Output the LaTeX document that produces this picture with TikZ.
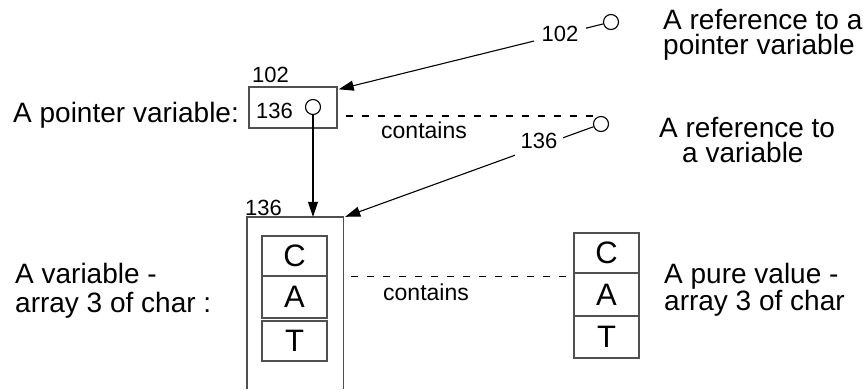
\documentclass[tikz,border=0pt]{standalone}
\usepackage{fontspec}
\setmainfont{Liberation Sans}
\usetikzlibrary{arrows.meta,calc}
\definecolor{boxgray}{HTML}{505050}
\begin{document}
\begin{tikzpicture}[x=1pt,y=-1pt,
  lbl/.style={font=\fontsize{28}{24}\selectfont, inner sep=0pt, anchor=base west},
  num/.style={font=\fontsize{22}{22}\selectfont, inner sep=0pt, anchor=base west},
  numlab/.style={font=\fontsize{22}{22}\selectfont, inner sep=0pt, fill=white},
  cnt/.style={font=\fontsize{23}{23}\selectfont, inner sep=0pt, anchor=base west},
  cell/.style={draw=boxgray, line width=1.4pt, minimum width=65pt, inner sep=0pt, font=\fontsize{31}{31}\selectfont},
  box/.style={draw=boxgray, line width=1.4pt, inner sep=0pt},
  refc/.style={circle, draw, line width=1.1pt, minimum size=15pt, inner sep=0pt},
  conn/.style={line width=1.1pt},
  arr/.style={conn, -{Triangle[length=15pt,width=10pt]}},
  dsh/.style={line width=1.1pt, dash pattern=on 7pt off 9pt},
]
\useasboundingbox (0,0) rectangle (867,389);

% pointer variable box
\node[box, minimum width=88pt, minimum height=41pt] (pbox) at (293,107.5) {};
\node[refc] (refp) at (313,107) {};
\node[num] (addr102) at (252,82) {102};
\node[num] (val136) at (256,118) {136};
\node[lbl] (ptrlbl) at (13,122) {A pointer variable:};

% big variable box (open at the bottom)
\node[minimum width=96pt, minimum height=172pt, inner sep=0pt] (big) at (295,303) {};
\draw[draw=boxgray, line width=1.4pt] (big.south west) -- (big.north west) -- (big.north east) -- (big.south east);
\node[num] (addr136) at (245,215) {136};
\node[cell, minimum height=40pt] (lC) at (294.5,256) {C};
\node[cell, minimum height=42pt] (lA) at (294.5,297) {A};
\node[cell, minimum height=40pt] (lT) at (294.5,341) {T};
\node[lbl] (varA) at (15,283) {A variable -};
\node[lbl] (varB) at (15,312) {array 3 of char :};

% pure value cells
\node[cell, minimum height=40pt] (rC) at (606.5,253) {C};
\node[cell, minimum height=43pt] (rA) at (606.5,294.5) {A};
\node[cell, minimum height=42pt] (rT) at (606.5,337) {T};
\node[lbl] (pureA) at (664,283) {A pure value -};
\node[lbl] (pureB) at (664,310) {array 3 of char};

% references
\node[refc] (ref1) at (611,22) {};
\node[refc] (ref2) at (601,124) {};
\node[lbl] (r1A) at (663,29) {A reference to a};
\node[lbl] (r1B) at (663,54) {pointer variable};
\node[lbl] (r2A) at (659,137) {A reference to};
\node[lbl] (r2B) at (682,162) {a variable};

% connectors
\coordinate (tip1) at ($(pbox.north east)+(1,3)$);
\coordinate (tip2) at ($(big.north east)+(2,0)$);
\draw[arr] (refp.south) -- (refp.south |- big.north);
\draw[arr] (ref1) -- (tip1);
\draw[arr] (ref2) -- (tip2);
\node[numlab, minimum width=52pt, minimum height=22pt] (lab102) at (560,34) {102};
\node[numlab, minimum width=48pt, minimum height=32pt] (lab136) at (539,141) {136};

% dashed "contains" lines
\coordinate (d1s) at ($(pbox.east)+(8,8.5)$);
\draw[dsh] (d1s) -- (ref2.west |- d1s);
\node[cnt] (cont1) at (381,138) {contains};
\coordinate (d2s) at ($(big.north east)+(8,60)$);
\draw[dsh] (d2s) -- (rA.west |- d2s);
\node[cnt] (cont2) at (383,300) {contains};
\end{tikzpicture}
\end{document}
